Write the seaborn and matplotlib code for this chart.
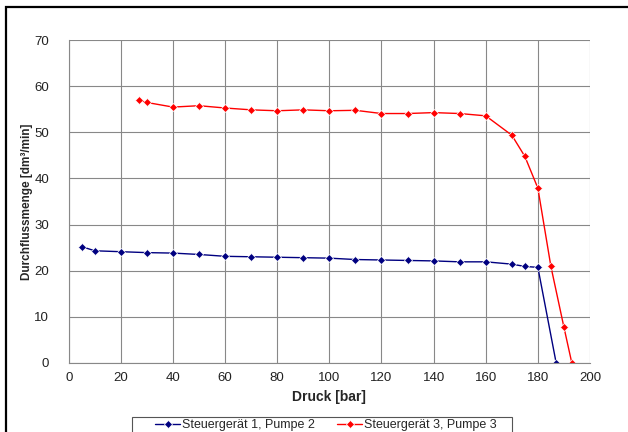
import matplotlib
matplotlib.use("Agg")
import matplotlib.pyplot as plt
from matplotlib.patches import Rectangle
import seaborn as sns

# Steuergeraet 1, Pumpe 2
druck_1 = [5, 10, 20, 30, 40, 50, 60, 70, 80, 90, 100, 110, 120, 130, 140,
           150, 160, 170, 175, 180, 187]
menge_1 = [25.2, 24.3, 24.1, 23.9, 23.8, 23.5, 23.1, 23.0, 22.9, 22.8, 22.7,
           22.4, 22.3, 22.2, 22.1, 21.9, 21.9, 21.4, 20.9, 20.7, 0.0]

# Steuergeraet 3, Pumpe 3
druck_3 = [27, 30, 40, 50, 60, 70, 80, 90, 100, 110, 120, 130, 140, 150, 160,
           170, 175, 180, 185, 190, 193]
menge_3 = [57.0, 56.5, 55.5, 55.8, 55.3, 54.9, 54.7, 54.9, 54.7, 54.8, 54.1,
           54.1, 54.3, 54.1, 53.6, 49.4, 44.8, 37.9, 20.9, 7.7, 0.0]

label_1 = "Steuergerät 1, Pumpe 2"
label_3 = "Steuergerät 3, Pumpe 3"

sns.set_style("white")
plt.rcParams['font.family'] = ['Liberation Sans', 'DejaVu Sans']

W, H = 628, 432
fig = plt.figure(figsize=(W / 100, H / 100), dpi=100)
x0, x1, ytop, ybot = 68.7, 590, 40.3, 362.7
ax = fig.add_axes([x0 / W, 1 - ybot / H, (x1 - x0) / W, (ybot - ytop) / H])

sns.lineplot(x=druck_1, y=menge_1, ax=ax, color="#000080", marker="D",
             markersize=4, markeredgewidth=0.5, linewidth=1, sort=False,
             label=label_1)
sns.lineplot(x=druck_3, y=menge_3, ax=ax, color="#FF0000", marker="D",
             markersize=4, markeredgewidth=0.5, linewidth=1, sort=False,
             label=label_3)

ax.set_xlim(0, 200)
ax.set_ylim(0, 70)
ax.set_xticks(range(0, 201, 20))
ax.set_yticks(range(0, 71, 10))
ax.grid(True, color="#888888", linewidth=0.8)
ax.set_axisbelow(True)
for side in ["top", "right"]:
    ax.spines[side].set_visible(False)
for side in ["left", "bottom"]:
    ax.spines[side].set_color("#888888")
    ax.spines[side].set_linewidth(0.8)
ax.tick_params(axis="both", direction="out", length=4, width=0.8,
               color="#888888", labelsize=9.5, labelcolor="#222222")
ax.tick_params(axis="y", pad=10)
ax.tick_params(axis="x", pad=3)

ax.set_xlabel("Druck [bar]", fontsize=10, fontweight="bold", labelpad=4)
ax.set_ylabel("Durchflussmenge [dm³/min]", fontsize=8.5, fontweight="bold")
ax.yaxis.set_label_coords((33 - x0) / (x1 - x0), 0.5)

# legend entries without frame, the box is drawn separately
leg = ax.legend(loc="upper left", bbox_to_anchor=(155 / W, 1 - 419 / H),
                bbox_transform=fig.transFigure, ncol=2, fontsize=9,
                frameon=False, borderpad=0, borderaxespad=0,
                handlelength=2.0, columnspacing=1.8, handletextpad=0.15)
fig.patches.append(Rectangle((132 / W, -0.2), (512 - 132) / W,
                             0.2 + 1 - 417 / H, transform=fig.transFigure,
                             fill=False, edgecolor="#555555", linewidth=0.8))

# outer chart frame (cut at right and bottom)
fig.patches.append(Rectangle((6 / W, -0.5), 2.0, 1.5 - 7.3 / H,
                             transform=fig.transFigure, fill=False,
                             edgecolor="black", linewidth=1.6))

fig.savefig("out.png", dpi=100)
